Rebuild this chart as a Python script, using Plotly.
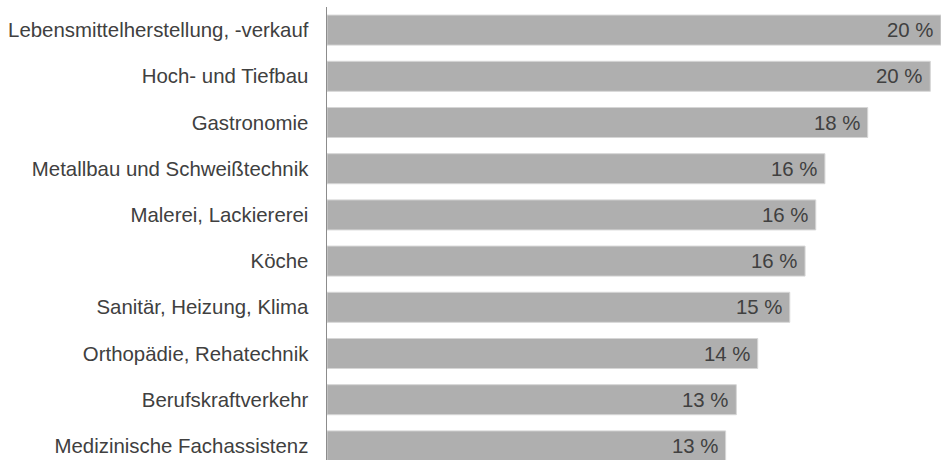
import plotly.graph_objects as go

categories = [
    "Lebensmittelherstellung, -verkauf",
    "Hoch- und Tiefbau",
    "Gastronomie",
    "Metallbau und Schweißtechnik",
    "Malerei, Lackiererei",
    "Köche",
    "Sanitär, Heizung, Klima",
    "Orthopädie, Rehatechnik",
    "Berufskraftverkehr",
    "Medizinische Fachassistenz",
]
values = [20.1, 19.75, 17.7, 16.3, 16.0, 15.65, 15.15, 14.1, 13.4, 13.05]
value_labels = ["20 %", "20 %", "18 %", "16 %", "16 %", "16 %", "15 %", "14 %", "13 %", "13 %"]

FONT = "Liberation Sans, Arial, sans-serif"
FS = 20.4

fig = go.Figure()
fig.add_trace(go.Bar(
    y=categories,
    x=values,
    orientation="h",
    marker=dict(color="#afafaf", line=dict(color="#d6d6d6", width=1)),
    hoverinfo="skip",
))

for cat, v, lab in zip(categories, values, value_labels):
    fig.add_annotation(
        x=v, y=cat, text=lab, showarrow=False,
        xanchor="right", yanchor="middle", xshift=-6,
        font=dict(family=FONT, size=FS, color="#404040"),
    )

fig.update_layout(
    width=941, height=460,
    margin=dict(l=327, r=0, t=7, b=0, autoexpand=False),
    paper_bgcolor="white", plot_bgcolor="white",
    bargap=0.35,
    showlegend=False,
    font=dict(family=FONT, size=FS, color="#404040"),
)
fig.update_xaxes(
    range=[0, 20.1], showgrid=False, zeroline=False, showticklabels=False,
    showline=False, ticks="", automargin=False,
)
fig.update_yaxes(
    categoryorder="array", categoryarray=categories,
    range=[9.305, -0.5], automargin=False,
    showgrid=False, zeroline=False,
    showline=True, linecolor="#8c8c8c", linewidth=1.5,
    ticks="outside", ticklen=13, tickcolor="rgba(0,0,0,0)",
    tickfont=dict(family=FONT, size=FS, color="#404040"),
)

fig.write_html(
    "out.html",
    config={"displayModeBar": False, "staticPlot": True},
    post_script="document.body.style.margin='0px';document.body.style.overflow='hidden';",
)
